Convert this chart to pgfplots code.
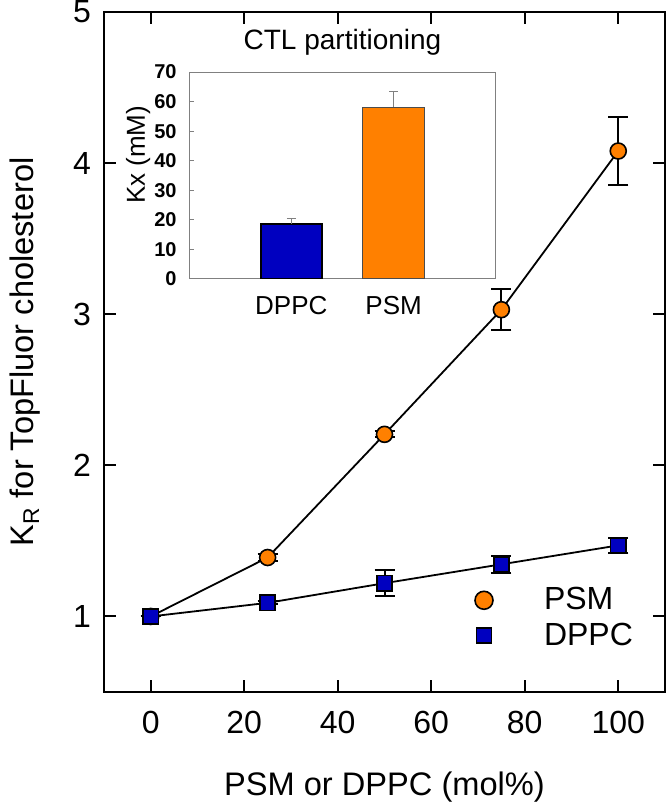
\documentclass[border=0pt]{standalone}
\usepackage{fontspec}
\setmainfont{Liberation Sans}
\usepackage{pgfplots}
\pgfplotsset{compat=1.18}

\definecolor{psmorange}{HTML}{FF8000}
\definecolor{dppcblue}{HTML}{0000C0}

\begin{document}
\begin{tikzpicture}
% main axis: K_R vs mol%
\begin{axis}[
  name=main, at={(0,0)}, anchor=south west,
  scale only axis, width=280.5pt, height=340pt,
  xmin=-10, xmax=110, ymin=0.5, ymax=5,
  xtick={0,20,...,100}, ytick={1,2,3,4,5},
  tick align=inside, major tick length=6pt,
  axis line style={line width=1pt}, tick style={line width=1pt, black},
  /pgf/number format/assume math mode=true,
  tick label style={font=\fontsize{16}{19}\selectfont},
  xticklabel style={yshift=-6pt},
  yticklabel style={xshift=-3pt},
  xlabel={PSM or DPPC (mol\%)},
  ylabel={K\textsubscript{R} for TopFluor cholesterol},
  label style={font=\fontsize{16.3}{19}\selectfont},
  xlabel style={at={(axis description cs:0.5,-0.1515)}, anchor=base},
  ylabel style={at={(axis description cs:-0.1248,0.5)}, anchor=base},
  legend style={draw=none, fill=none, inner sep=0pt, outer sep=0pt,
    at={(axis cs:69.36,0.99)}, anchor=west,
    nodes={inner sep=0pt, font=\fontsize{16}{19}\selectfont},
    column sep=25.5pt, row sep=5pt},
  legend cell align=left,
]
\addlegendimage{only marks, mark=*, mark size=4.5pt,
  mark options={fill=psmorange, draw=black, line width=0.8pt}}
\addlegendentry{PSM}
\addlegendimage{only marks, mark=square*, mark size=3.8pt,
  mark options={fill=dppcblue, draw=black, line width=0.8pt}}
\addlegendentry{DPPC}

\addplot[forget plot, black, line width=0.9pt, mark=*, mark size=4pt,
  mark options={fill=psmorange, draw=black, line width=0.8pt},
  error bars/.cd, y dir=both, y explicit,
  error bar style={line width=1pt, black},
  error mark options={rotate=90, mark size=5pt, line width=1pt, black}]
  table[x=x, y=y, y error=e] {
x   y     e
0   1.00  0.00
25  1.39  0.02
50  2.205 0.02
75  3.03  0.135
100 4.08  0.225
};

\addplot[forget plot, black, line width=0.9pt, mark=square*, mark size=3.8pt,
  mark options={fill=dppcblue, draw=black, line width=0.8pt},
  error bars/.cd, y dir=both, y explicit,
  error bar style={line width=1pt, black},
  error mark options={rotate=90, mark size=5pt, line width=1pt, black}]
  table[x=x, y=y, y error=e] {
x   y     e
0   1.00  0.00
25  1.09  0.01
50  1.22  0.087
75  1.345 0.055
100 1.47  0.05
};
\end{axis}

% inset: partition coefficients
\begin{axis}[
  name=inset, at={(42.5pt,206.5pt)}, anchor=south west,
  scale only axis, width=153.5pt, height=103.5pt,
  xmin=0, xmax=3, ymin=0, ymax=70,
  ytick={0,10,...,70}, xtick={1,2}, xticklabels={DPPC,PSM},
  ytick pos=left, tick align=inside, major tick length=2.5pt,
  axis line style={gray, line width=0.5pt},
  y tick style={gray, line width=0.5pt},
  x tick style={draw=none},
  /pgf/number format/assume math mode=true,
  yticklabel style={font=\bfseries\fontsize{10}{12}\selectfont, xshift=-2.7pt},
  xticklabel style={font=\fontsize{13}{15}\selectfont, yshift=-5pt},
  ylabel={Kx (mM)},
  ylabel style={font=\fontsize{13}{15}\selectfont,
    at={(axis description cs:-0.166,0.6)}, anchor=center},
  title={CTL partitioning},
  title style={font=\fontsize{14}{16}\selectfont,
    at={(axis description cs:0.5,1)}, anchor=base, yshift=5.5pt},
]
\addplot[ybar, bar shift=0pt, bar width=0.6, fill=dppcblue, draw=black, line width=0.9pt,
  error bars/.cd, y dir=plus, y explicit,
  error bar style={gray, line width=0.5pt},
  error mark options={rotate=90, mark size=2.25pt, gray, line width=0.5pt}]
  coordinates {(1,18.6) +- (0,2.0)};
\addplot[ybar, bar shift=0pt, bar width=0.6, fill=psmorange, draw=gray!60!black, line width=0.5pt,
  error bars/.cd, y dir=plus, y explicit,
  error bar style={gray, line width=0.5pt},
  error mark options={rotate=90, mark size=2.25pt, gray, line width=0.5pt}]
  coordinates {(2,58.1) +- (0,5.4)};
\end{axis}

\pgfresetboundingbox
\path[use as bounding box] (-52pt,-55.5pt) rectangle (281.5pt,346pt);
\end{tikzpicture}
\end{document}
